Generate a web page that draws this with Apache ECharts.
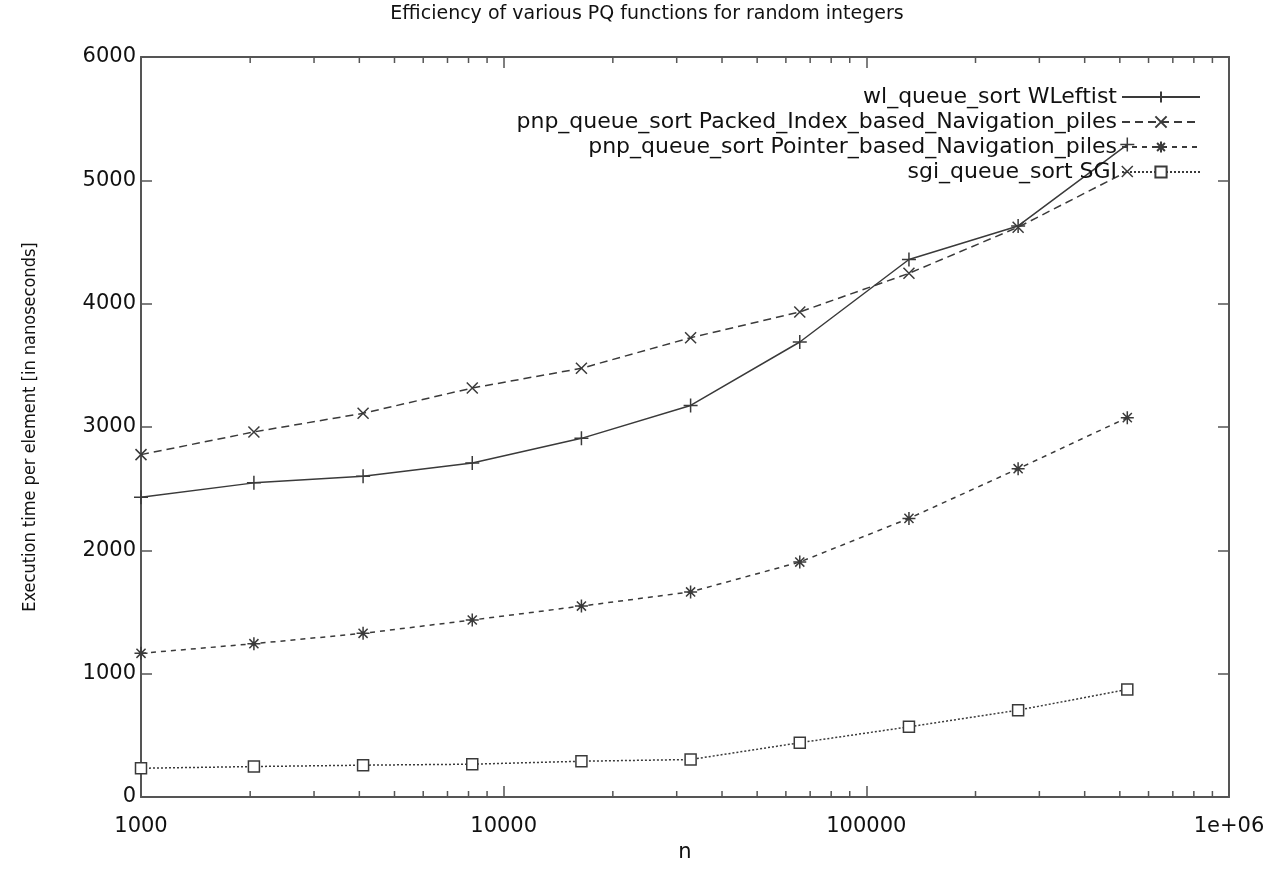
<!DOCTYPE html>
<html>
<head>
<meta charset="utf-8">
<title>PQ efficiency</title>
<script src="https://cdn.jsdelivr.net/npm/echarts@6/dist/echarts.min.js"></script>
<style>
  html, body { margin: 0; padding: 0; background: #fff; }
  #chart { width: 1272px; height: 871px; }
</style>
</head>
<body>
<div id="chart"></div>
<script>
// n values (log axis)
const sizes = [1000, 2048, 4096, 8192, 16384, 32768, 65536, 131072, 262144, 524288];
// execution time per element
const wlLeftist = [2430, 2547, 2600, 2708, 2908, 3175, 3689, 4358, 4630, 5290];
const pnpPacked = [2776, 2960, 3111, 3316, 3476, 3724, 3933, 4246, 4620, 5072];
const pnpPointer = [1165, 1243, 1327, 1435, 1548, 1663, 1905, 2259, 2662, 3076];
const sgiSort = [233, 247, 258, 266, 290, 304, 440, 569, 704, 872];
const seriesNames = [
  'wl_queue_sort WLeftist',
  'pnp_queue_sort Packed_Index_based_Navigation_piles',
  'pnp_queue_sort Pointer_based_Navigation_piles',
  'sgi_queue_sort SGI',
];
// minor ticks of the log axis: 2..9 times each decade
const decades = [1000, 10000, 100000];
const minorSteps = [2, 3, 4, 5, 6, 7, 8, 9];

const ink = '#3a3a3a';
const font = '"DejaVu Sans", Arial, sans-serif';
const nameFont = '"DejaVu Sans Condensed", "DejaVu Sans", sans-serif';

const plusPath = 'path://M5,0 L5,10 M0,5 L10,5';
const crossPath = 'path://M0,0 L10,10 M10,0 L0,10';
const starPath = 'path://M5,0 L5,10 M0,5 L10,5 M1.5,1.5 L8.5,8.5 M8.5,1.5 L1.5,8.5';

const pairs = (ys) => sizes.map((x, i) => [x, ys[i]]);

const chart = echarts.init(document.getElementById('chart'));

const minorTicks = [];
decades.forEach((d) => {
  minorSteps.forEach((m) => minorTicks.push([d * m]));
});

const lineSeries = (name, ys, dash, symbol, size) => ({
  name,
  type: 'line',
  xAxisIndex: 0,
  yAxisIndex: 0,
  data: pairs(ys),
  symbol,
  symbolSize: size,
  showAllSymbol: true,
  lineStyle: { color: ink, width: 1.5, type: dash },
  itemStyle: { color: ink, borderColor: ink, borderWidth: 1.5 },
  emphasis: { disabled: true },
  z: 3,
});

const logAxis = (pos, showLabel) => ({
  type: 'log',
  logBase: 10,
  min: 1000,
  max: 1000000,
  position: pos,
  gridIndex: 0,
  axisLine: { show: true, onZero: false, lineStyle: { color: '#555', width: 2 } },
  axisTick: { show: true, inside: true, length: 11, lineStyle: { color: '#555', width: 1.5 } },
  splitLine: { show: false },
  axisLabel: {
    show: showLabel,
    margin: 19,
    color: '#111',
    fontFamily: font,
    fontSize: 21,
    formatter: (v) => (v >= 1000000 ? '1e+06' : String(Math.round(v))),
  },
});

const valAxis = (pos, showLabel) => ({
  type: 'value',
  min: 0,
  max: 6000,
  interval: 1000,
  position: pos,
  gridIndex: 0,
  axisLine: { show: true, lineStyle: { color: '#555', width: 2 } },
  axisTick: { show: true, inside: true, length: 11, lineStyle: { color: '#555', width: 1.5 } },
  splitLine: { show: false },
  axisLabel: {
    show: showLabel,
    margin: 5,
    color: '#111',
    fontFamily: font,
    fontSize: 21,
    formatter: (v) => String(v),
  },
});

const xMain = logAxis('bottom', true);
xMain.name = 'n';
xMain.nameLocation = 'middle';
xMain.nameGap = 43;
xMain.nameTextStyle = { color: '#111', fontFamily: font, fontSize: 21 };

const yMain = valAxis('left', true);
yMain.name = 'Execution time per element [in nanoseconds]';
yMain.nameLocation = 'middle';
yMain.nameGap = 102;
yMain.nameTextStyle = { color: '#111', fontFamily: nameFont, fontSize: 18 };

const option = {
  backgroundColor: '#fff',
  animation: false,
  title: {
    text: 'Efficiency of various PQ functions for random integers',
    left: 642,
    top: 0,
    textAlign: 'center',
    textStyle: { color: '#111', fontFamily: font, fontSize: 19, fontWeight: 'normal' },
  },
  grid: { left: 141, right: 43, top: 57, bottom: 74, containLabel: false },
  legend: {
    data: seriesNames,
    orient: 'vertical',
    align: 'right',
    right: 66,
    top: 81,
    itemWidth: 78,
    itemHeight: 14,
    itemGap: 3,
    selectedMode: false,
    textStyle: { color: '#111', fontFamily: font, fontSize: 22, lineHeight: 18 },
  },
  xAxis: [xMain, logAxis('top', false)],
  yAxis: [yMain, valAxis('right', false)],
  series: [
    lineSeries(seriesNames[0], wlLeftist, 'solid', plusPath, 14),
    lineSeries(seriesNames[1], pnpPacked, [8, 5], crossPath, 11),
    lineSeries(seriesNames[2], pnpPointer, [5, 5], starPath, 13),
    Object.assign(lineSeries(seriesNames[3], sgiSort, [2, 2], 'rect', 11), {
      itemStyle: { color: '#fff', borderColor: ink, borderWidth: 1.5 },
    }),
    {
      // minor ticks on bottom and top of the log axis
      type: 'custom',
      xAxisIndex: 0,
      yAxisIndex: 0,
      data: minorTicks,
      silent: true,
      renderItem: (params, api) => {
        const bottom = api.coord([api.value(0), 0]);
        const top = api.coord([api.value(0), 6000]);
        const style = { stroke: '#555', lineWidth: 1.5 };
        return {
          type: 'group',
          children: [
            { type: 'line', shape: { x1: bottom[0], y1: bottom[1], x2: bottom[0], y2: bottom[1] - 6 }, style },
            { type: 'line', shape: { x1: top[0], y1: top[1], x2: top[0], y2: top[1] + 6 }, style },
          ],
        };
      },
    },
  ],
};

chart.setOption(option);
</script>
</body>
</html>
